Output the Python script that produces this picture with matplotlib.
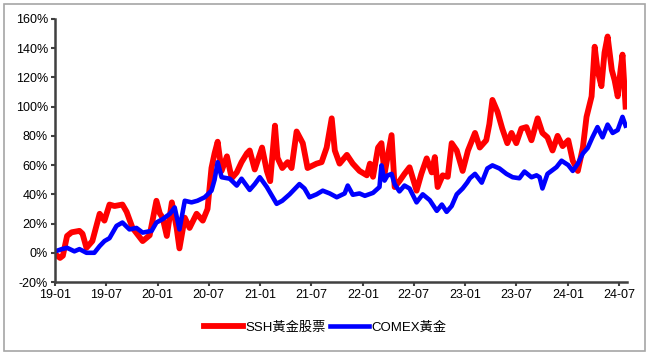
import matplotlib
matplotlib.use("Agg")
import matplotlib.pyplot as plt
import matplotlib.dates as mdates
import pandas as pd
from matplotlib.patches import Rectangle
from matplotlib.ticker import FuncFormatter

plt.rcParams['font.family'] = ['Liberation Sans', 'Noto Sans CJK SC', 'DejaVu Sans']

# SSH黃金股票 (累计涨跌幅, %)
ssh_dates = [
    "2019-01-02", "2019-01-19", "2019-01-29", "2019-02-13", "2019-03-01", "2019-03-29",
    "2019-04-09", "2019-04-23", "2019-05-14", "2019-06-09", "2019-06-26", "2019-07-14",
    "2019-08-01", "2019-08-29", "2019-09-13", "2019-10-04", "2019-11-09", "2019-12-04",
    "2019-12-28", "2020-01-09", "2020-01-19", "2020-02-03", "2020-02-21", "2020-03-09",
    "2020-03-19", "2020-04-07", "2020-04-24", "2020-05-19", "2020-06-10", "2020-06-27",
    "2020-07-11", "2020-07-22", "2020-08-02", "2020-08-16", "2020-09-04", "2020-09-21",
    "2020-10-09", "2020-10-26", "2020-11-14", "2020-11-24", "2020-12-12", "2021-01-07",
    "2021-01-24", "2021-02-05", "2021-02-22", "2021-03-03", "2021-03-20", "2021-04-08",
    "2021-04-22", "2021-05-10", "2021-06-01", "2021-06-18", "2021-07-20", "2021-08-07",
    "2021-08-25", "2021-09-12", "2021-09-23", "2021-10-10", "2021-11-05", "2021-11-26",
    "2021-12-20", "2022-01-15", "2022-01-26", "2022-02-06", "2022-02-24", "2022-03-08",
    "2022-03-19", "2022-04-13", "2022-04-24", "2022-05-11", "2022-05-29", "2022-06-16",
    "2022-07-11", "2022-07-28", "2022-08-16", "2022-09-03", "2022-09-14", "2022-09-24",
    "2022-10-12", "2022-10-30", "2022-11-13", "2022-12-01", "2022-12-22", "2023-01-10",
    "2023-02-04", "2023-02-21", "2023-03-16", "2023-03-27", "2023-04-07", "2023-04-25",
    "2023-05-12", "2023-05-30", "2023-06-14", "2023-07-01", "2023-07-19", "2023-08-06",
    "2023-08-24", "2023-09-15", "2023-10-02", "2023-10-20", "2023-11-07", "2023-11-25",
    "2023-12-13", "2024-01-02", "2024-01-18", "2024-02-05", "2024-02-23", "2024-03-07",
    "2024-03-25", "2024-04-05", "2024-04-15", "2024-04-29", "2024-05-10", "2024-05-21",
    "2024-06-05", "2024-06-15", "2024-06-26", "2024-07-06", "2024-07-13", "2024-07-24",
]
ssh_vals = [
    -1, -3.5, -2, 11.5, 14, 15,
    13, 3.4, 8, 26.7, 22, 33,
    32, 33, 28, 17, 8, 12,
    35.6, 27, 24, 11.5, 34.5, 17,
    3, 24, 17, 26.7, 22, 30,
    58, 68, 76, 56, 66, 51,
    55, 62, 68, 70, 57, 72,
    56, 49, 87, 65, 58, 62,
    58, 83, 75, 58, 61, 62,
    72, 92, 70, 61, 67, 61,
    56, 53, 61, 52, 72, 75,
    54, 80.5, 45, 49, 54, 58.5,
    42.5, 54, 64.6, 55, 65.5, 45,
    53, 52, 75, 70, 56, 70,
    82, 72, 77, 88, 104.6, 96.5,
    85, 75, 82, 75, 85, 86,
    77, 92, 82, 79, 70, 80,
    73, 77, 63, 56, 72, 93,
    107, 141, 125, 114, 137, 148,
    125, 118, 107, 125, 135.6, 100,
]

# COMEX黃金 (累计涨跌幅, %)
comex_dates = [
    "2019-01-02", "2019-01-25", "2019-02-13", "2019-03-11", "2019-03-29", "2019-04-23",
    "2019-05-21", "2019-06-09", "2019-06-26", "2019-07-14", "2019-08-08", "2019-08-29",
    "2019-09-23", "2019-10-18", "2019-11-09", "2019-12-11", "2019-12-28", "2020-01-19",
    "2020-02-14", "2020-03-02", "2020-03-19", "2020-04-07", "2020-05-01", "2020-05-22",
    "2020-06-17", "2020-07-11", "2020-07-22", "2020-08-02", "2020-08-16", "2020-09-14",
    "2020-10-09", "2020-10-26", "2020-11-24", "2020-12-12", "2020-12-30", "2021-01-24",
    "2021-02-28", "2021-03-20", "2021-04-15", "2021-05-20", "2021-06-07", "2021-06-25",
    "2021-07-20", "2021-08-11", "2021-09-05", "2021-09-30", "2021-10-28", "2021-11-08",
    "2021-11-26", "2021-12-20", "2022-01-08", "2022-02-06", "2022-03-01", "2022-03-08",
    "2022-03-19", "2022-03-29", "2022-04-13", "2022-04-24", "2022-05-11", "2022-05-29",
    "2022-06-16", "2022-07-11", "2022-08-02", "2022-08-27", "2022-09-21", "2022-10-09",
    "2022-10-26", "2022-11-13", "2022-12-01", "2022-12-22", "2023-01-07", "2023-01-17",
    "2023-02-04", "2023-02-28", "2023-03-20", "2023-04-07", "2023-05-02", "2023-05-27",
    "2023-06-18", "2023-07-12", "2023-07-30", "2023-08-24", "2023-09-11", "2023-09-22",
    "2023-10-02", "2023-10-20", "2023-11-21", "2023-12-09", "2024-01-02", "2024-01-18",
    "2024-02-05", "2024-02-23", "2024-03-11", "2024-03-28", "2024-04-15", "2024-05-03",
    "2024-05-21", "2024-06-08", "2024-06-26", "2024-07-13", "2024-07-24",
]
comex_vals = [
    1, 2.5, 3.4, 1, 2.5, 0,
    0, 4.6, 8, 10, 18.4, 20.7,
    16, 17, 13.8, 15, 20.7, 23,
    26.7, 31, 16, 35.6, 34.5, 35.6,
    38, 42.5, 50, 62, 51.7, 50.7,
    46, 50.7, 43, 47, 51.7, 45,
    33.5, 35.6, 40, 47, 44, 38,
    40, 42.5, 40.6, 38, 40.6, 46,
    39.7, 40.6, 39, 41, 45, 59.8,
    49.4, 52.8, 54, 47, 42, 46,
    44, 34.5, 40, 36, 28.7, 33,
    28, 32, 40, 44, 48, 51,
    54, 48, 57.7, 59.8, 57.7, 54,
    51.7, 51, 55.6, 51.7, 53, 51.7,
    44, 54, 58.6, 63, 60, 56,
    61, 68, 71.7, 79, 86, 79,
    87.7, 82, 84, 93, 87,
]

y_ticks = list(range(-20, 161, 20))
x_ticks = ["2019-01", "2019-07", "2020-01", "2020-07", "2021-01", "2021-07",
           "2022-01", "2022-07", "2023-01", "2023-07", "2024-01", "2024-07"]

fig = plt.figure(figsize=(6.5, 3.55), dpi=100)
ax = fig.add_axes([0.0846, 0.2056, 0.88, 0.741])

ax.plot(pd.to_datetime(ssh_dates), ssh_vals, color='#ff0000', lw=4.2,
        solid_joinstyle='round', label='SSH黃金股票')
ax.plot(pd.to_datetime(comex_dates), comex_vals, color='#0000ff', lw=3.3,
        solid_joinstyle='round', label='COMEX黃金')

ax.set_ylim(-20, 160)
ax.set_yticks(y_ticks)
ax.yaxis.set_major_formatter(FuncFormatter(lambda v, p: f"{v:.0f}%"))
ax.set_xlim(pd.Timestamp("2019-01-01"), pd.Timestamp("2024-07-29"))
ax.set_xticks(pd.to_datetime(x_ticks))
ax.xaxis.set_major_formatter(mdates.DateFormatter("%y-%m"))

for s in ['top', 'right']:
    ax.spines[s].set_visible(False)
for s in ['left', 'bottom']:
    ax.spines[s].set_color('#404040')
    ax.spines[s].set_linewidth(1.8)
ax.tick_params(axis='both', direction='out', length=3, width=1.5, color='#404040',
               labelsize=9, labelcolor='black', pad=2)

fig.legend(loc='center', bbox_to_anchor=(0.5, 0.078), ncol=2, frameon=False,
           fontsize=9.5, handlelength=3, handletextpad=0.15, columnspacing=0.3)

fig.patches.append(Rectangle((4 / 650, 4 / 355), 641 / 650, 347 / 355,
                             transform=fig.transFigure, fill=False,
                             edgecolor='#a6a6a6', lw=1.2))

fig.savefig("out.png", dpi=100)
